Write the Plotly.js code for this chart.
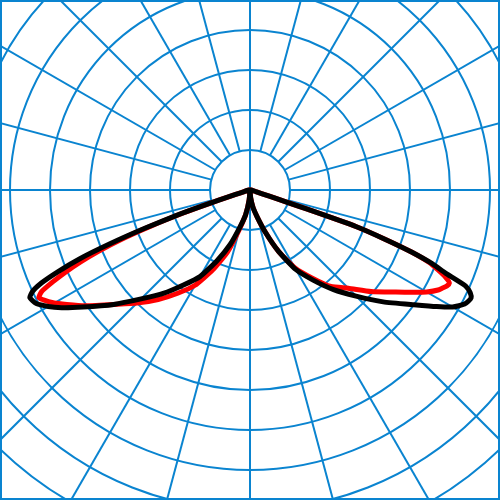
<!DOCTYPE html>
<html>
<head>
<meta charset="utf-8">
<script src="https://cdn.plot.ly/plotly-3.0.1.min.js"></script>
<style>
html, body { margin:0; padding:0; background:#fff; }
#wrap { position:absolute; left:0; top:0; width:500px; height:500px; overflow:hidden; background:#fff; }
#plot { position:absolute; left:-150px; top:-210px; width:800px; height:800px; }
#frame { position:absolute; left:0; top:0; width:500px; height:500px; box-sizing:border-box; border:2px solid #0a84d0; pointer-events:none; }
</style>
</head>
<body>
<div id="wrap"><div id="plot"></div><div id="frame"></div></div>
<script>
// gamma angles (degrees from nadir) and intensities (one ring = 40 units)
const gamma = [0,5,10,15,20,25,30,35,40,45,50,55,58,60,62,63,64,65,66,67,68,69,70,71,71.5,72,73,75,80,85,90];
const blackRight = [0,8,18,28,45,68,92,110,130,150,174,200,220,234,243,245,246,243,236,212,196,173,143,112,62,28,12,6,3,1,0];
const blackLeft  = [0,10,25,38,58,78,100,116,135,154,178,204,222,233,242,244,245,240,228,208,184,150,112,75,53,35,15,6,3,1,0];
const redRight   = [0,8,18,28,45,68,90,107,126,139,158,178,193,204,213,216,219,220,214,204,193,173,143,112,62,28,12,6,3,1,0];
const redLeft    = [0,10,25,40,66,88,110,126,143,160,178,202,216,226,234,237,232,218,202,184,163,138,105,70,50,33,15,6,3,1,0];

const gridColor = '#0a84d0';
const ringStep = 40, rMax = 400;
const spokeStep = 15;

function lobe(left, right) {
  const th = [], rr = [];
  for (let i = gamma.length - 1; i >= 0; i--) { th.push(-gamma[i]); rr.push(left[i]); }
  for (let i = 0; i < gamma.length; i++) { th.push(gamma[i]); rr.push(right[i]); }
  return {theta: th, r: rr};
}

// spokes
const sTh = [], sR = [];
for (let a = 0; a < 360; a += spokeStep) {
  const r0 = (a === 0 || a === 180) ? 0 : ringStep;
  sTh.push(a, a, null); sR.push(r0, rMax, null);
}

const red = lobe(redLeft, redRight);
const black = lobe(blackLeft, blackRight);

const data = [
  {type:'scatterpolar', mode:'lines', theta:sTh, r:sR, connectgaps:false,
   line:{color:gridColor, width:2}, hoverinfo:'skip', showlegend:false},
  {type:'scatterpolar', mode:'lines', theta:red.theta, r:red.r,
   line:{color:'#ff0000', width:5, shape:'spline', smoothing:0.5}, hoverinfo:'skip', showlegend:false},
  {type:'scatterpolar', mode:'lines', theta:black.theta, r:black.r,
   line:{color:'#000000', width:5, shape:'spline', smoothing:0.5}, hoverinfo:'skip', showlegend:false}
];

const layout = {
  width:800, height:800,
  margin:{l:0, r:0, t:0, b:0, pad:0},
  paper_bgcolor:'#fff', plot_bgcolor:'#fff', showlegend:false,
  polar:{
    domain:{x:[0,1], y:[0,1]},
    bgcolor:'#fff',
    radialaxis:{range:[0,rMax], dtick:ringStep, tick0:0, showgrid:true, gridcolor:gridColor, gridwidth:2,
      showticklabels:false, ticks:'', showline:false, zeroline:false},
    angularaxis:{rotation:-90, direction:'counterclockwise', showgrid:false, showticklabels:false,
      ticks:'', showline:false}
  }
};

Plotly.newPlot('plot', data, layout, {staticPlot:true, displayModeBar:false});
</script>
</body>
</html>
